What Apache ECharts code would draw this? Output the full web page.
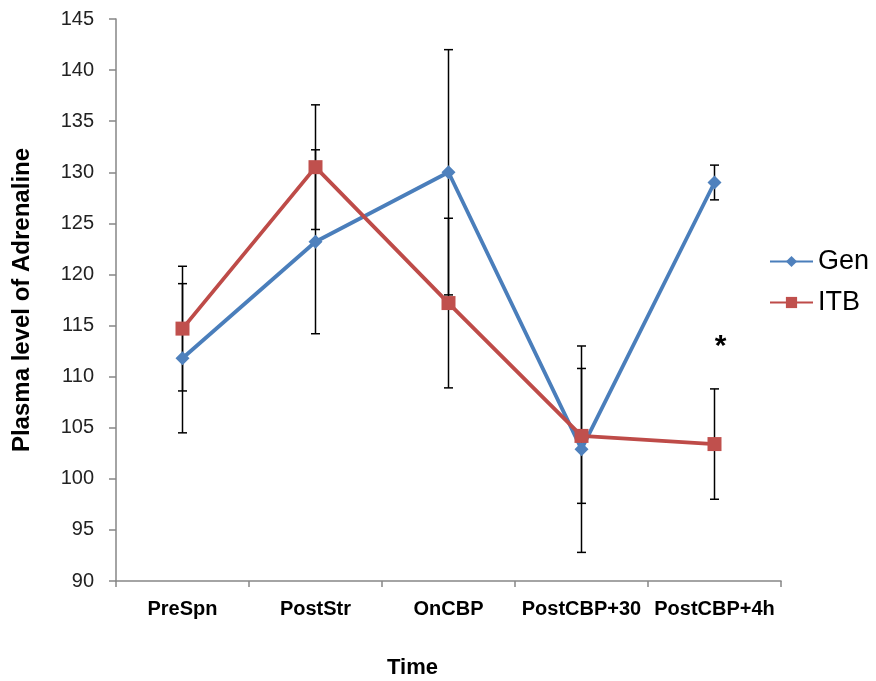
<!DOCTYPE html>
<html>
<head>
<meta charset="utf-8">
<script src="https://cdn.jsdelivr.net/npm/echarts@6/dist/echarts.min.js"></script>
<style>
html,body{margin:0;padding:0;background:#fff;}
#chart{width:876px;height:681px;}
</style>
</head>
<body>
<div id="chart"></div>
<script>
const categories = ['PreSpn', 'PostStr', 'OnCBP', 'PostCBP+30', 'PostCBP+4h'];
const genValues = [111.8, 123.2, 130.0, 102.9, 129.0];
const genErrors = [7.3, 9.0, 12.0, 10.1, 1.7];
const itbValues = [114.7, 130.5, 117.2, 104.2, 103.4];
const itbErrors = [6.1, 6.1, 8.3, 6.6, 5.4];
const yTicks = { min: 90, max: 145, interval: 5 };
const sigMark = { index: 4, value: 113.4, text: '*' };

const chart = echarts.init(document.getElementById('chart'));
const FONT = 'Liberation Sans, Arial, sans-serif';

function errData(vals, errs) {
  return vals.map((v, i) => [i, v - errs[i], v + errs[i]]);
}

function errRender(params, api) {
  const x = api.coord([api.value(0), api.value(1)])[0];
  const lo = api.coord([api.value(0), api.value(1)])[1];
  const hi = api.coord([api.value(0), api.value(2)])[1];
  const hw = 4.5;
  const st = { stroke: '#000', lineWidth: 1.5 };
  return {
    type: 'group',
    children: [
      { type: 'line', shape: { x1: x, y1: lo, x2: x, y2: hi }, style: st },
      { type: 'line', shape: { x1: x - hw, y1: lo, x2: x + hw, y2: lo }, style: st },
      { type: 'line', shape: { x1: x - hw, y1: hi, x2: x + hw, y2: hi }, style: st }
    ]
  };
}

const axisColor = '#868686';
chart.setOption({
  animation: false,
  backgroundColor: '#fff',
  grid: { left: 116, right: 95, top: 19, bottom: 100, containLabel: false, outerBoundsMode: 'none' },
  legend: {
    orient: 'vertical',
    left: 764,
    top: 243,
    itemWidth: 43,
    itemHeight: 14,
    itemGap: 14,
    data: ['Gen', 'ITB'],
    textStyle: { fontSize: 27, color: '#000', fontFamily: FONT }
  },
  xAxis: {
    type: 'category',
    data: categories,
    boundaryGap: true,
    name: 'Time',
    nameLocation: 'middle',
    nameGap: 76,
    nameTextStyle: { fontSize: 22, fontWeight: 'bold', color: '#000', fontFamily: FONT, padding: [0, 72, 0, 0] },
    axisLine: { lineStyle: { color: axisColor, width: 1.5 } },
    axisTick: { show: true, alignWithLabel: false, length: 6, lineStyle: { color: axisColor, width: 1.5 } },
    axisLabel: { interval: 0, fontSize: 20, fontWeight: 'bold', color: '#000', margin: 18, fontFamily: FONT },
    splitLine: { show: false }
  },
  yAxis: {
    type: 'value',
    min: yTicks.min,
    max: yTicks.max,
    interval: yTicks.interval,
    name: 'Plasma level of Adrenaline',
    nameLocation: 'middle',
    nameGap: 82,
    nameTextStyle: { fontSize: 24, fontWeight: 'bold', color: '#000', fontFamily: FONT },
    axisLine: { show: true, lineStyle: { color: axisColor, width: 1.5 } },
    axisTick: { show: true, length: 7, lineStyle: { color: axisColor, width: 1.5 } },
    axisLabel: { fontSize: 20, color: '#222', margin: 22, fontFamily: FONT },
    splitLine: { show: false }
  },
  series: [
    {
      type: 'custom',
      name: 'genErr',
      renderItem: errRender,
      data: errData(genValues, genErrors),
      encode: { x: 0, y: [1, 2] },
      z: 1,
      silent: true
    },
    {
      type: 'custom',
      name: 'itbErr',
      renderItem: errRender,
      data: errData(itbValues, itbErrors),
      encode: { x: 0, y: [1, 2] },
      z: 1,
      silent: true
    },
    {
      name: 'Gen',
      type: 'line',
      data: genValues,
      symbol: 'diamond',
      symbolSize: 14,
      z: 3,
      lineStyle: { color: '#4A7EBB', width: 3.8 },
      itemStyle: { color: '#4F81BD' }
    },
    {
      name: 'ITB',
      type: 'line',
      data: itbValues,
      symbol: 'rect',
      symbolSize: 14,
      z: 4,
      lineStyle: { color: '#BE4B48', width: 3.8 },
      itemStyle: { color: '#C0504D' },
      markPoint: {
        symbol: 'circle',
        symbolSize: 0,
        data: [{ coord: [sigMark.index, sigMark.value], value: sigMark.text }],
        label: {
          show: true,
          formatter: sigMark.text,
          fontSize: 30,
          fontWeight: 'bold',
          color: '#000',
          offset: [6, 5],
          fontFamily: FONT
        }
      }
    }
  ]
});
</script>
</body>
</html>
